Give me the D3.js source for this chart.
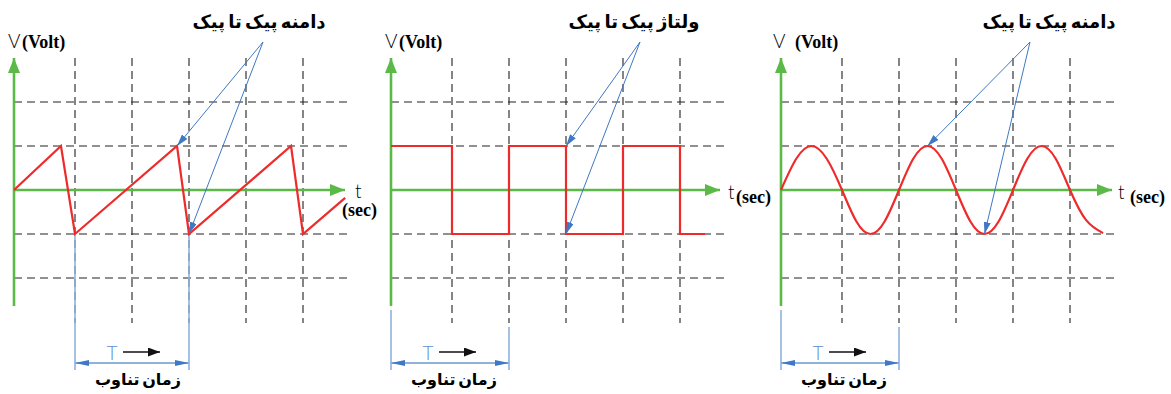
<!DOCTYPE html>
<meta charset="utf-8">
<style>
body { margin: 0; background: #fff; }
.grid line { stroke: #222; stroke-width: 1.1; stroke-dasharray: 8,5; }
.fa { font-family: "DejaVu Sans", "Noto Sans", sans-serif; font-weight: bold; direction: rtl; word-spacing: -3px; }
.unit { font-family: "Liberation Serif", "Times New Roman", "DejaVu Serif", serif; font-weight: bold; }
.thin { font-family: Lato, "Open Sans", sans-serif; font-weight: 300; }
</style>

<svg width="1171" height="394"></svg>

<script src="https://d3js.org/d3.v7.min.js"></script>
<script>

// grid positions (t in grid units, V in grid units)
var gridT = [1, 2, 3, 4, 5];
var gridV = [2, 1, -1, -2];

// sawtooth
var sawT = [0, 0.77, 1, 2.79, 3, 4.79, 5, 5.74];
var sawV = [0, 1, -1, 1, -1, 1, -1, -0.18];

// square wave
var sqT = [0, 1, 1, 2, 2, 3, 3, 4, 4, 5, 5, 5.44];
var sqV = [1, 1, -1, -1, 1, 1, -1, -1, 1, 1, -1, -1];

// sine wave, read at quarter steps
var sinT = [0, 0.25, 0.5, 0.75, 1, 1.25, 1.5, 1.75, 2, 2.25, 2.5, 2.75, 3, 3.25, 3.5, 3.75, 4, 4.25, 4.5, 4.75, 5, 5.28, 5.58];
var sinV = [0, 0.71, 1, 0.71, 0, -0.71, -1, -0.71, 0, 0.71, 1, 0.71, 0, -0.71, -1, -0.71, 0, 0.71, 1, 0.71, 0, -0.68, -0.98];

var titles = ["دامنه پیک تا پیک", "ولتاژ پیک تا پیک", "دامنه پیک تا پیک"];
var periodLabel = "زمان تناوب";

// where the annotation arrows point (t for the +1 point and the -1 point)
var peakT = [[2.79, 3], [3, 3], [2.5, 3.5]];
var peakV = [1, -1];
// period markers
var periodT = [[1, 3], [0, 2], [0, 2]];

var svg = d3.select("svg");
var green = "#5bb947", red = "#ee2b2b", blue = "#3f78c4", lightBlue = "#8fb1dc";

var defs = svg.append("defs");
function marker(id, len, wid, color, orient) {
  defs.append("marker")
    .attr("id", id)
    .attr("markerUnits", "userSpaceOnUse")
    .attr("markerWidth", len + 1).attr("markerHeight", wid)
    .attr("refX", len).attr("refY", wid / 2)
    .attr("orient", orient || "auto")
    .append("path")
    .attr("d", "M0,0L" + len + "," + (wid / 2) + "L0," + wid + "Z")
    .attr("fill", color);
}
marker("gHead", 15, 12, green);
marker("bHead", 12, 7, blue);
marker("pHead", 14, 6, blue, "auto-start-reverse");
marker("kHead", 12, 9, "#111");

var panels = [
  { ox: 0, wave: d3.zip(sawT, sawV), curve: d3.curveLinear, titleX: 259, tPos: "below" },
  { ox: 377, wave: d3.zip(sqT, sqV), curve: d3.curveLinear, titleX: 634, tPos: "side" },
  { ox: 767, wave: d3.zip(sinT, sinV), curve: d3.curveNatural, titleX: 1049, tPos: "side" }
];

panels.forEach(function(p, i) {
  var ox = p.ox;
  var x = d3.scaleLinear().domain([0, 1, 5]).range([ox + 14, ox + 75, ox + 303]);
  var y = d3.scaleLinear().domain([-2, 2]).range([278, 102]);
  var g = svg.append("g");

  // dashed grid
  var grid = g.append("g").attr("class", "grid");
  grid.selectAll("line.v").data(gridT).enter().append("line")
    .attr("class", "v")
    .attr("x1", function(d) { return x(d); }).attr("x2", function(d) { return x(d); })
    .attr("y1", 58).attr("y2", 323);
  grid.selectAll("line.h").data(gridV).enter().append("line")
    .attr("class", "h")
    .attr("x1", x(0)).attr("x2", ox + 350)
    .attr("y1", function(d) { return y(d); }).attr("y2", function(d) { return y(d); });

  // period marker
  var pt = periodT[i];
  var vTop = i == 0 ? [y(-1), y(-1)] : [310, 327];
  g.selectAll("line.per").data(pt).enter().append("line")
    .attr("class", "per")
    .attr("x1", function(d) { return x(d); }).attr("x2", function(d) { return x(d); })
    .attr("y1", function(d, j) { return vTop[j]; }).attr("y2", 370)
    .attr("stroke", lightBlue).attr("stroke-width", 1.6);
  g.append("line")
    .attr("x1", x(pt[0])).attr("x2", x(pt[1]))
    .attr("y1", 363).attr("y2", 363)
    .attr("stroke", lightBlue).attr("stroke-width", 1.8)
    .attr("marker-start", "url(#pHead)").attr("marker-end", "url(#pHead)");
  g.append("text").attr("class", "thin")
    .attr("x", x(pt[0]) + 37).attr("y", 360)
    .attr("text-anchor", "middle").attr("font-size", 19).attr("fill", "#5d8fd0")
    .text("T");
  g.append("line")
    .attr("x1", x(pt[0]) + 48).attr("x2", x(pt[0]) + 85)
    .attr("y1", 352).attr("y2", 352)
    .attr("stroke", "#111").attr("stroke-width", 1.6)
    .attr("marker-end", "url(#kHead)");
  g.append("text").attr("class", "fa")
    .attr("x", x(pt[0]) + 63).attr("y", 385)
    .attr("text-anchor", "middle").attr("font-size", 16)
    .text(periodLabel);

  // axes
  g.append("line")
    .attr("x1", x(0)).attr("x2", x(0)).attr("y1", 306).attr("y2", 58)
    .attr("stroke", green).attr("stroke-width", 2.6)
    .attr("marker-end", "url(#gHead)");
  g.append("line")
    .attr("x1", x(0)).attr("x2", ox + 345 - (i == 1 ? 2 : 0)).attr("y1", y(0)).attr("y2", y(0))
    .attr("stroke", green).attr("stroke-width", 2.6)
    .attr("marker-end", "url(#gHead)");

  // waveform
  var line = d3.line()
    .x(function(d) { return x(d[0]); })
    .y(function(d) { return y(d[1]); })
    .curve(p.curve);
  g.append("path")
    .datum(p.wave)
    .attr("d", line)
    .attr("fill", "none").attr("stroke", red).attr("stroke-width", 2.2)
    .attr("stroke-linejoin", "miter");

  // annotation
  var src = [ox + 263, 42];
  g.selectAll("line.anno").data(d3.zip(peakT[i], peakV)).enter().append("line")
    .attr("class", "anno")
    .attr("x1", src[0]).attr("y1", src[1])
    .attr("x2", function(d) { return x(d[0]); })
    .attr("y2", function(d) { return y(d[1]); })
    .attr("stroke", blue).attr("stroke-width", 1)
    .attr("marker-end", "url(#bHead)");
  g.append("text").attr("class", "fa")
    .attr("x", p.titleX).attr("y", 28)
    .attr("text-anchor", "middle").attr("font-size", 18)
    .text(titles[i]);

  // axis labels
  g.append("text").attr("class", "thin")
    .attr("x", x(0) - 6 + (i == 2 ? -2 : 0)).attr("y", 48)
    .attr("font-size", 19).text("V");
  g.append("text").attr("class", "unit")
    .attr("x", x(0) + (i == 2 ? 14 : 8)).attr("y", 48)
    .attr("font-size", 18).text("(Volt)");
  if (p.tPos == "below") {
    g.append("text").attr("class", "thin")
      .attr("x", ox + 355).attr("y", 198).attr("font-size", 19).text("t");
    g.append("text").attr("class", "unit")
      .attr("x", ox + 342).attr("y", 216).attr("font-size", 18).text("(sec)");
  } else {
    var tx = ox + 351;
    g.append("text").attr("class", "thin")
      .attr("x", tx).attr("y", 199).attr("font-size", 19).text("t");
    g.append("text").attr("class", "unit")
      .attr("x", tx + (i == 1 ? 8 : 12)).attr("y", 203).attr("font-size", 18).text("(sec)");
  }
});

</script>
